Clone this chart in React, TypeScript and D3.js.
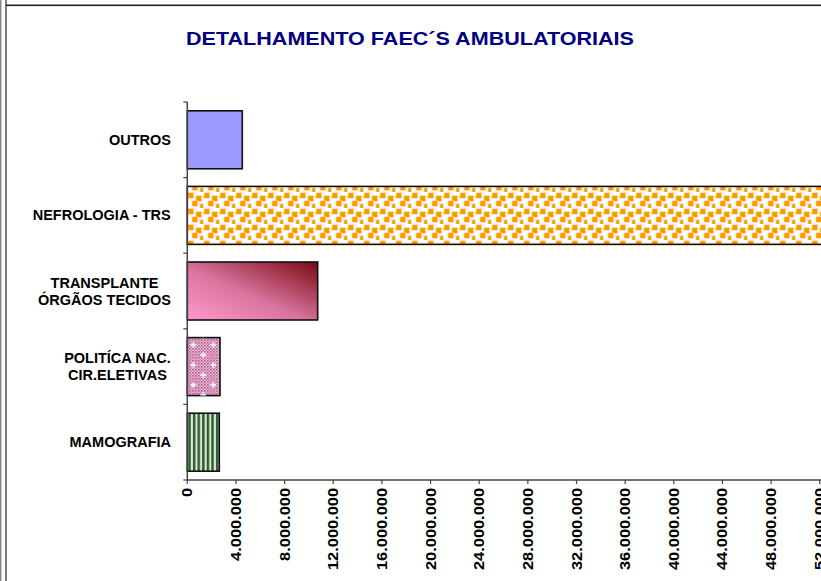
import React from "react";
import * as d3 from "d3";

const title = "DETALHAMENTO FAEC´S AMBULATORIAIS";
const categories = [
  "OUTROS",
  "NEFROLOGIA - TRS",
  "TRANSPLANTE\nÓRGÃOS TECIDOS",
  "POLITÍCA NAC.\nCIR.ELETIVAS",
  "MAMOGRAFIA",
];
const values = [4.52e6, 54.5e6, 10.72e6, 2.69e6, 2.63e6];
const tickValues = d3.range(0, 56e6 + 1, 4e6);

const W = 821;
const H = 581;
const x0 = 187.3;
const pxPer4M = 48.65;
const axisY = 480;
const plotTop = 102;

const fmt = d3
  .formatLocale({ decimal: ",", thousands: ".", grouping: [3], currency: ["", ""] })
  .format(",d");

const LABEL_FONT = "bold 14.5px 'Liberation Sans', Arial, sans-serif";

function measure(t: string): number {
  if (typeof document === "undefined") return t.length * 9;
  const c = document.createElement("canvas").getContext("2d");
  if (!c) return t.length * 9;
  c.font = LABEL_FONT;
  return c.measureText(t).width;
}

export default function App() {
  const x = d3
    .scaleLinear()
    .domain([0, 56e6])
    .range([x0, x0 + 14 * pxPer4M]);
  const y = d3
    .scaleBand<string>()
    .domain(categories)
    .range([plotTop, axisY])
    .paddingInner(0.233)
    .paddingOuter(0.1165);
  const step = y.step();
  const fills = ["#9999ff", "url(#orangeDots)", "url(#transGrad)", "url(#pinkCheck)", "url(#greenStripes)"];
  const labelRight = 171;

  const orangeSquares = [
    [1, 1], [9, 4], [5, 9], [13, 12], [17, 0],
  ];

  return (
    <svg
      width={W}
      height={H}
      style={{ position: "absolute", left: 0, top: 0, background: "#fff" }}
      fontFamily="'Liberation Sans', Arial, sans-serif"
    >
      <defs>
        <pattern id="orangeDots" width={16} height={16} patternUnits="userSpaceOnUse" x={x0} y={0}>
          <rect width={16} height={16} fill="#fff" />
          {orangeSquares.map(([px, py], i) => (
            <g key={i}>
              <rect x={px - 0.7} y={py - 0.7} width={6.4} height={6.4} fill="#ffd699" />
              <rect x={px} y={py} width={5} height={5} fill="#ff9900" />
            </g>
          ))}
        </pattern>
        <linearGradient id="transGrad" x1="0" y1="1" x2="1" y2="0">
          <stop offset="0" stopColor="#ff99cc" />
          <stop offset="0.45" stopColor="#d9749e" />
          <stop offset="1" stopColor="#7a0a12" />
        </linearGradient>
        <pattern id="pinkCheck" width={3} height={3} patternUnits="userSpaceOnUse">
          <rect width={3} height={3} fill="#e8c2d8" />
          <rect x={0} y={0} width={1.6} height={1.6} fill="#b8558e" />
          <rect x={1.5} y={1.5} width={1.5} height={1.5} fill="#cc7aa8" />
        </pattern>
        <pattern id="pinkStars" width={20} height={20} patternUnits="userSpaceOnUse" x={x0}>
          <path d="M6,2 v6 M3,5 h6" stroke="#fff" strokeWidth={1.4} />
          <path d="M16,12 v6 M13,15 h6" stroke="#fff" strokeWidth={1.4} />
        </pattern>
        <pattern id="greenStripes" width={4.6} height={10} patternUnits="userSpaceOnUse" x={x0 + 1}>
          <rect width={4.6} height={10} fill="#dfe6df" />
          <rect x={0} width={2.5} height={10} fill="#2d5e2d" />
        </pattern>
      </defs>

      {/* frame lines */}
      <rect x={0} y={0} width={1.5} height={H} fill="#8a8a8a" />
      <rect x={5} y={0} width={2} height={H} fill="#7a7a7a" />
      <rect x={6} y={4.5} width={W - 6} height={1.6} fill="#222" />

      <text
        x={410}
        y={45}
        textAnchor="middle"
        fontSize={18.5}
        fontWeight="bold"
        fill="#000080"
        textLength={448}
        lengthAdjust="spacingAndGlyphs"
      >
        {title}
      </text>

      {/* bars */}
      {categories.map((c, i) => (
        <g key={c}>
          <rect
            x={x(0)}
            y={y(c)!}
            width={x(values[i]) - x(0)}
            height={y.bandwidth()}
            fill={fills[i]}
            stroke="#111"
            strokeWidth={1.6}
          />
          {i === 3 && (
            <rect
              x={x(0)}
              y={y(c)!}
              width={x(values[i]) - x(0)}
              height={y.bandwidth()}
              fill="url(#pinkStars)"
              stroke="none"
            />
          )}
        </g>
      ))}

      {/* category axis */}
      <line x1={x0} x2={x0} y1={plotTop} y2={axisY} stroke="#444" strokeWidth={1.5} />
      {d3.range(categories.length + 1).map((k) => (
        <line
          key={k}
          x1={x0 - 4}
          x2={x0}
          y1={plotTop + k * step}
          y2={plotTop + k * step}
          stroke="#444"
          strokeWidth={1.2}
        />
      ))}

      {/* value axis */}
      <line x1={x0} x2={W} y1={axisY} y2={axisY} stroke="#444" strokeWidth={1.5} />
      {tickValues.map((v) => (
        <g key={v}>
          <line x1={x(v)} x2={x(v)} y1={axisY} y2={axisY + 4} stroke="#444" strokeWidth={1.2} />
          <text
            transform={`translate(${x(v) + 5},488) rotate(-90) scale(1.13,1)`}
            textAnchor="end"
            fontSize={14.5}
            fontWeight="bold"
            fill="#000"
          >
            {fmt(v)}
          </text>
        </g>
      ))}

      {/* category labels */}
      {categories.map((c) => {
        const lines = c.split("\n");
        const widths = lines.map(measure);
        const bw = Math.max(...widths);
        const cy = y(c)! + y.bandwidth() / 2;
        const lh = 17;
        const startBase = cy + 5 - ((lines.length - 1) * lh) / 2;
        return (
          <g key={c}>
            {lines.map((ln, j) => (
              <text
                key={j}
                x={labelRight - bw / 2}
                y={startBase + j * lh}
                textAnchor="middle"
                fontSize={14.5}
                fontWeight="bold"
                fill="#000"
              >
                {ln}
              </text>
            ))}
          </g>
        );
      })}
    </svg>
  );
}
